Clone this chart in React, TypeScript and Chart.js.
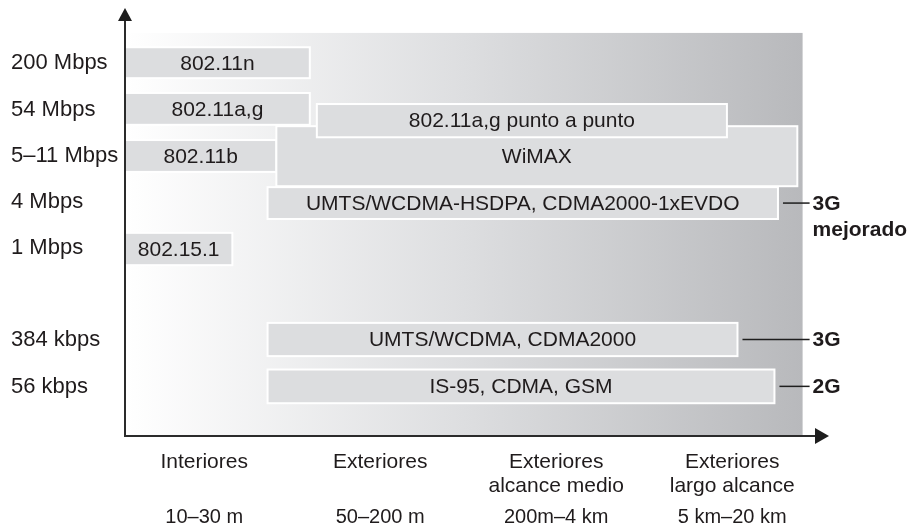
import React, { useEffect, useRef } from "react";
import { Chart, registerables } from "chart.js";

Chart.register(...registerables);

// Range categories (x axis)
const rangeCategories: (string | string[])[] = [
  "Interiores",
  "Exteriores",
  ["Exteriores", "alcance medio"],
  ["Exteriores", "largo alcance"],
];
const rangeDistances = ["10\u201330 m", "50\u2013200 m", "200m\u20134 km", "5 km\u201320 km"];
const rangeTickValues = [0.5, 1.5, 2.5, 3.5];

// Data-rate rows (y axis)
const rateLabels = ["200 Mbps", "54 Mbps", "5\u201311 Mbps", "4 Mbps", "1 Mbps", "384 kbps", "56 kbps"];
const rateTickValues = [7, 6, 5, 4, 3, 1, 0];

// Standards: extent in range units (x) and in rate rows (y)
const standards = [
  "802.11n",
  "802.11a,g",
  "802.11b",
  "802.15.1",
  "WiMAX",
  "802.11a,g punto a punto",
  "UMTS/WCDMA-HSDPA, CDMA2000-1xEVDO",
  "UMTS/WCDMA, CDMA2000",
  "IS-95, CDMA, GSM",
];
const rangeFrom = [0.05, 0.05, 0.05, 0.05, 0.91, 1.14, 0.86, 0.86, 0.86];
const rangeTo = [1.1, 1.1, 0.91, 0.66, 3.87, 3.47, 3.76, 3.53, 3.74];
const rateFrom = [6.68, 5.67, 4.65, 2.63, 4.34, 5.4, 3.63, 0.66, -0.36];
const rateTo = [7.35, 6.36, 5.34, 3.33, 5.64, 6.12, 4.32, 1.38, 0.37];

// Generation call-outs
const generationLabels = [["3G", "mejorado"], ["3G"], ["2G"]];
const generationStandard = [6, 7, 8];

// Backdrop extent
const backdropRange = [0.05, 3.9];
const backdropTop = 7.66;

const FONT = '"Liberation Sans", Arial, Helvetica, sans-serif';
const TEXT = "#1f1b1c";

const diagramPlugin = {
  id: "diagram",
  beforeDatasetsDraw(chart: any) {
    const { ctx } = chart;
    const x = chart.scales.x;
    const y = chart.scales.y;
    ctx.save();
    const gx0 = x.getPixelForValue(backdropRange[0]);
    const gx1 = x.getPixelForValue(backdropRange[1]);
    const gy0 = y.getPixelForValue(backdropTop);
    const gy1 = y.getPixelForValue(y.min);
    const g = ctx.createLinearGradient(gx0, 0, gx1, 0);
    g.addColorStop(0, "#ffffff");
    g.addColorStop(0.5, "#dddee0");
    g.addColorStop(1, "#b8b9bc");
    ctx.fillStyle = g;
    ctx.fillRect(gx0, gy0, gx1 - gx0, gy1 - gy0);

    standards.forEach((name, i) => {
      const x0 = x.getPixelForValue(rangeFrom[i]);
      const x1 = x.getPixelForValue(rangeTo[i]);
      const y0 = y.getPixelForValue(rateTo[i]);
      const y1 = y.getPixelForValue(rateFrom[i]);
      ctx.fillStyle = "#dcdddf";
      ctx.fillRect(x0, y0, x1 - x0, y1 - y0);
      ctx.strokeStyle = "#ffffff";
      ctx.lineWidth = 2;
      ctx.strokeRect(x0, y0, x1 - x0, y1 - y0);
      ctx.fillStyle = TEXT;
      ctx.font = `21px ${FONT}`;
      ctx.textAlign = "center";
      ctx.textBaseline = "middle";
      ctx.fillText(name, (x0 + x1) / 2, (y0 + y1) / 2 + 1);
    });
    ctx.restore();
  },
  afterDraw(chart: any) {
    const { ctx, chartArea } = chart;
    const x = chart.scales.x;
    const y = chart.scales.y;
    ctx.save();
    const ox = x.getPixelForValue(x.min);
    const oy = y.getPixelForValue(y.min);
    ctx.strokeStyle = "#2b2b2b";
    ctx.fillStyle = "#1e1e1e";
    ctx.lineWidth = 2;
    // y axis
    ctx.beginPath();
    ctx.moveTo(ox, oy + 1);
    ctx.lineTo(ox, chartArea.top + 12);
    ctx.stroke();
    ctx.beginPath();
    ctx.moveTo(ox, chartArea.top);
    ctx.lineTo(ox - 7, chartArea.top + 13);
    ctx.lineTo(ox + 7, chartArea.top + 13);
    ctx.closePath();
    ctx.fill();
    // x axis
    ctx.beginPath();
    ctx.moveTo(ox - 1, oy);
    ctx.lineTo(chartArea.right - 12, oy);
    ctx.stroke();
    ctx.beginPath();
    ctx.moveTo(chartArea.right, oy);
    ctx.lineTo(chartArea.right - 14, oy - 8);
    ctx.lineTo(chartArea.right - 14, oy + 8);
    ctx.closePath();
    ctx.fill();

    // generation call-outs
    const edge = x.getPixelForValue(backdropRange[1]);
    generationLabels.forEach((lines, k) => {
      const i = generationStandard[k];
      const xr = x.getPixelForValue(rangeTo[i]);
      const yc = (y.getPixelForValue(rateFrom[i]) + y.getPixelForValue(rateTo[i])) / 2;
      ctx.strokeStyle = "#1e1e1e";
      ctx.lineWidth = 1.5;
      ctx.beginPath();
      ctx.moveTo(xr + 5, yc);
      ctx.lineTo(edge + 7, yc);
      ctx.stroke();
      ctx.fillStyle = TEXT;
      ctx.font = `bold 21px ${FONT}`;
      ctx.textAlign = "left";
      ctx.textBaseline = "middle";
      lines.forEach((t, j) => ctx.fillText(t, edge + 10, yc + 1 + j * 26));
    });
    ctx.restore();
  },
};

export default function App() {
  const ref = useRef<HTMLCanvasElement | null>(null);
  useEffect(() => {
    document.body.style.margin = "0";
    const canvas = ref.current;
    if (!canvas) return;
    const chart = new Chart(canvas, {
      type: "scatter",
      data: { datasets: [{ data: [] }] },
      options: {
        responsive: false,
        animation: false,
        events: [],
        layout: { padding: { top: 8, left: 11, right: 80, bottom: 0 } },
        plugins: { legend: { display: false }, tooltip: { enabled: false } },
        scales: {
          x: {
            type: "linear",
            position: "bottom",
            weight: 0,
            min: 0.05,
            max: 4.05,
            grid: { display: false, drawTicks: false },
            border: { display: false },
            afterBuildTicks: (s: any) => {
              s.ticks = rangeTickValues.map((v) => ({ value: v }));
            },
            afterFit: (s: any) => {
              s.height = 62;
              s.paddingLeft = 0;
              s.paddingRight = 0;
            },
            ticks: {
              autoSkip: false,
              maxRotation: 0,
              padding: 14,
              color: TEXT,
              font: { family: FONT, size: 21, lineHeight: "24px" },
              callback: (v: any) => rangeCategories[rangeTickValues.indexOf(Number(v))] as any,
            },
          },
          x2: {
            type: "linear",
            position: "bottom",
            weight: 1,
            min: 0.05,
            max: 4.05,
            grid: { display: false, drawTicks: false },
            border: { display: false },
            afterBuildTicks: (s: any) => {
              s.ticks = rangeTickValues.map((v) => ({ value: v }));
            },
            afterFit: (s: any) => {
              s.height = 29;
              s.paddingLeft = 0;
              s.paddingRight = 0;
            },
            ticks: {
              autoSkip: false,
              maxRotation: 0,
              padding: 7,
              color: TEXT,
              font: { family: FONT, size: 20, lineHeight: "24px" },
              callback: (v: any) => rangeDistances[rangeTickValues.indexOf(Number(v))],
            },
          },
          y: {
            type: "linear",
            position: "left",
            min: -1.07,
            max: 8.2,
            grid: { display: false, drawTicks: false },
            border: { display: false },
            afterBuildTicks: (s: any) => {
              s.ticks = [...rateTickValues].sort((a, b) => a - b).map((v) => ({ value: v }));
            },
            afterFit: (s: any) => {
              s.width = 114;
              s.paddingTop = 0;
              s.paddingBottom = 0;
            },
            ticks: {
              autoSkip: false,
              padding: 0,
              crossAlign: "far",
              color: TEXT,
              font: { family: FONT, size: 22 },
              callback: (v: any) => rateLabels[rateTickValues.indexOf(Number(v))],
            },
          },
        },
      } as any,
      plugins: [diagramPlugin],
    });
    return () => chart.destroy();
  }, []);
  return <canvas ref={ref} width={909} height={527} style={{ display: "block" }} />;
}
